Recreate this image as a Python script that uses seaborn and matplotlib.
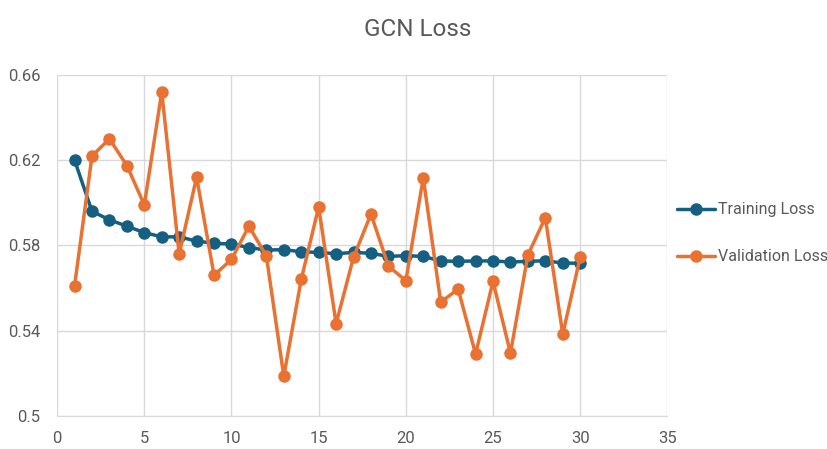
import numpy as np
import pandas as pd
import matplotlib.pyplot as plt
import seaborn as sns

# epochs and loss values
epochs = list(range(1, 31))
train_loss = [0.620, 0.596, 0.592, 0.589, 0.586, 0.584, 0.584, 0.582, 0.581, 0.5806,
              0.579, 0.5778, 0.578, 0.577, 0.5767, 0.5761, 0.5767, 0.5763, 0.5748, 0.5752,
              0.5748, 0.5727, 0.5725, 0.5727, 0.5727, 0.5722, 0.5725, 0.5728, 0.5717, 0.5716]
val_loss = [0.561, 0.622, 0.630, 0.6175, 0.599, 0.652, 0.576, 0.612, 0.566, 0.5734,
            0.589, 0.575, 0.5186, 0.564, 0.598, 0.5433, 0.5744, 0.5947, 0.5703, 0.5634,
            0.6117, 0.5533, 0.5595, 0.529, 0.5631, 0.5294, 0.5755, 0.593, 0.5383, 0.5745]
series_names = ["Training Loss", "Validation Loss"]
colors = ["#156082", "#E97132"]

df = pd.DataFrame({"epoch": epochs * 2,
                   "loss": train_loss + val_loss,
                   "series": [series_names[0]] * 30 + [series_names[1]] * 30})

sns.set_style("white")
plt.rcParams['font.family'] = ['Roboto', 'DejaVu Sans']

fig = plt.figure(figsize=(8.28, 4.49), dpi=100)
ax = fig.add_axes([0.069, 0.074, 0.737, 0.759])

sns.lineplot(data=df, x="epoch", y="loss", hue="series", palette=colors,
             marker="o", markersize=9, markeredgewidth=0, linewidth=2.5, ax=ax)

ax.set_xlim(0, 35)
ax.set_ylim(0.5, 0.66)
ax.set_xticks(range(0, 36, 5))
ax.set_yticks([0.5, 0.54, 0.58, 0.62, 0.66])
ax.set_yticklabels(["0.5", "0.54", "0.58", "0.62", "0.66"])
ax.grid(True, color="#d9d9d9", linewidth=1)
ax.set_axisbelow(True)
for s in ["top", "right", "left"]:
    ax.spines[s].set_visible(False)
ax.spines["bottom"].set_color("#d9d9d9")
ax.tick_params(colors="#595959", labelsize=12, length=0)
ax.tick_params(axis="y", pad=12)
ax.tick_params(axis="x", pad=11)
ax.set_xlabel("")
ax.set_ylabel("")

fig.suptitle("GCN Loss", x=0.505, y=0.96, fontsize=17.5, color="#595959")

leg = ax.legend(loc="center left", bbox_to_anchor=(0.992, 0.535), frameon=False,
                fontsize=11.5, labelcolor="#595959", handlelength=2.4,
                handletextpad=0.15, labelspacing=2.0)

fig.savefig("out.png", dpi=100)
